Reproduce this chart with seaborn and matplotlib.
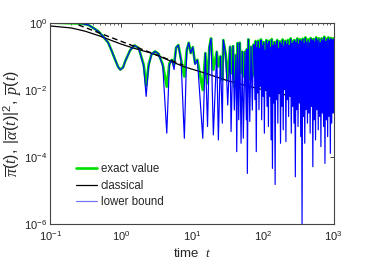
import numpy as np
import pandas as pd
import matplotlib
matplotlib.use("Agg")
import matplotlib.pyplot as plt
import seaborn as sns
from matplotlib.ticker import LogLocator, FixedLocator, NullLocator, NullFormatter

# ---------------- data (log10 units) ----------------
# early / middle part of the curves: log10(t), log10(exact), log10(lower bound)
logt_early = [-1.00, -0.85, -0.70, -0.55, -0.46, -0.39, -0.32, -0.25, -0.18, -0.13,
              -0.08, -0.04, -0.01, 0.03, 0.06, 0.13, 0.19, 0.25, 0.32, 0.355,
              0.39, 0.43, 0.48, 0.53, 0.59, 0.646, 0.683, 0.716, 0.749, 0.777,
              0.810, 0.848, 0.894, 0.928, 0.956, 0.984, 1.013, 1.045, 1.078, 1.154,
              1.190, 1.221, 1.247, 1.271, 1.303, 1.351, 1.374, 1.402, 1.430, 1.444,
              1.478, 1.506, 1.539, 1.553, 1.581, 1.599, 1.623, 1.633, 1.647, 1.661,
              1.676, 1.694, 1.712, 1.726, 1.750, 1.769, 1.776, 1.783, 1.797, 1.817,
              1.835, 1.853, 1.868]
exact_early = [0.00, -0.01, -0.02, -0.03, -0.07, -0.16, -0.26, -0.42, -0.60, -0.85,
               -1.12, -1.32, -1.40, -1.33, -1.15, -0.82, -0.68, -0.76, -1.25, -1.88,
               -1.25, -0.95, -0.86, -0.93, -1.25, -1.91, -1.21, -1.11, -1.26, -0.75,
               -0.67, -1.11, -1.61, -0.82, -0.60, -0.91, -0.73, -1.21, -1.11, -2.01,
               -0.91, -1.81, -0.73, -0.47, -1.41, -0.87, -1.31, -1.01, -1.71, -0.52,
               -0.96, -1.71, -0.72, -1.51, -0.70, -1.91, -0.96, -1.60, -0.61, -1.91,
               -0.60, -1.50, -0.87, -1.60, -0.87, -1.70, -0.80, -1.50, -0.50, -1.70,
               -0.72, -1.60, -0.67]
lower_early = [0.00, -0.01, -0.02, -0.03, -0.07, -0.16, -0.26, -0.42, -0.60, -0.85,
               -1.12, -1.33, -1.41, -1.34, -1.15, -0.82, -0.68, -0.76, -1.30, -2.20,
               -1.30, -0.95, -0.86, -0.93, -1.30, -3.30, -1.25, -1.11, -1.40, -0.75,
               -0.67, -1.15, -3.45, -0.82, -0.60, -0.91, -0.73, -1.25, -1.11, -3.45,
               -0.91, -3.10, -0.73, -0.47, -3.35, -0.87, -3.50, -1.01, -3.00, -0.52,
               -0.96, -2.46, -0.72, -3.25, -0.70, -2.61, -0.96, -3.85, -0.61, -2.90,
               -0.60, -3.60, -0.87, -3.45, -0.87, -2.90, -0.80, -4.50, -0.50, -2.95,
               -0.72, -2.61, -0.67]

# dense, fast-oscillating part (t from ~76 to 1000)
logt_dense = [1.880, 1.890, 1.899, 1.909, 1.918, 1.928, 1.937, 1.947, 1.956, 1.966,
              1.975, 1.985, 1.994, 2.004, 2.013, 2.023, 2.032, 2.042, 2.051, 2.061,
              2.070, 2.080, 2.089, 2.099, 2.108, 2.118, 2.127, 2.137, 2.146, 2.156,
              2.165, 2.175, 2.184, 2.194, 2.203, 2.213, 2.222, 2.232, 2.241, 2.251,
              2.260, 2.270, 2.279, 2.289, 2.298, 2.308, 2.317, 2.327, 2.336, 2.346,
              2.355, 2.365, 2.374, 2.384, 2.393, 2.403, 2.412, 2.422, 2.431, 2.441,
              2.450, 2.460, 2.469, 2.479, 2.488, 2.498, 2.507, 2.517, 2.526, 2.536,
              2.545, 2.555, 2.564, 2.574, 2.583, 2.593, 2.602, 2.612, 2.621, 2.631,
              2.640, 2.650, 2.659, 2.669, 2.678, 2.688, 2.697, 2.707, 2.716, 2.726,
              2.735, 2.745, 2.754, 2.764, 2.773, 2.783, 2.792, 2.802, 2.811, 2.821,
              2.830, 2.840, 2.849, 2.859, 2.868, 2.878, 2.887, 2.897, 2.906, 2.916,
              2.925, 2.935, 2.944, 2.954, 2.963, 2.973, 2.982, 2.992, 2.996, 3.000]
exact_dense = [-0.64, -0.9, -0.55, -1.0, -0.72, -0.9, -0.54, -0.9, -0.76, -0.9,
               -0.50, -0.9, -0.66, -0.85, -0.58, -1.0, -0.80, -0.9, -0.52, -0.85,
               -0.62, -0.9, -0.54, -0.85, -0.72, -1.0, -0.49, -1.0, -0.66, -0.85,
               -0.58, -1.0, -0.64, -0.85, -0.52, -0.9, -0.74, -0.9, -0.56, -0.9,
               -0.62, -0.85, -0.50, -0.9, -0.68, -0.85, -0.54, -0.9, -0.62, -0.85,
               -0.52, -0.85, -0.66, -0.85, -0.47, -0.9, -0.60, -0.85, -0.54, -0.85,
               -0.52, -1.0, -0.58, -0.85, -0.47, -0.85, -0.62, -0.85, -0.50, -0.9,
               -0.54, -1.0, -0.48, -0.85, -0.60, -0.9, -0.44, -0.85, -0.56, -0.85,
               -0.50, -0.85, -0.58, -0.9, -0.46, -0.85, -0.52, -1.0, -0.49, -0.85,
               -0.55, -0.9, -0.44, -0.85, -0.52, -0.9, -0.47, -0.85, -0.58, -0.9,
               -0.47, -0.85, -0.52, -0.85, -0.42, -1.0, -0.54, -0.85, -0.48, -0.9,
               -0.44, -0.85, -0.50, -0.9, -0.46, -0.85, -0.52, -0.85, -0.47, -0.85]
lower_dense = [-0.66, -2.3, -0.57, -3.85, -0.74, -2.1, -0.56, -2.6, -0.78, -1.9,
               -0.52, -2.9, -0.68, -2.2, -0.60, -3.3, -0.82, -2.0, -0.54, -2.5,
               -0.64, -3.1, -0.56, -2.2, -0.74, -3.5, -0.51, -4.35, -0.68, -2.4,
               -0.60, -4.83, -0.66, -2.3, -0.54, -3.0, -0.76, -2.1, -0.58, -3.6,
               -0.64, -2.5, -0.52, -3.2, -0.70, -2.0, -0.56, -3.55, -0.64, -2.3,
               -0.54, -2.8, -0.68, -2.2, -0.49, -3.3, -0.62, -2.5, -0.56, -3.0,
               -0.54, -4.6, -0.60, -2.6, -0.49, -3.1, -0.64, -2.4, -0.52, -3.4,
               -0.56, -6.0, -0.50, -2.8, -0.62, -3.6, -0.46, -2.6, -0.58, -3.0,
               -0.52, -2.7, -0.60, -3.3, -0.48, -2.5, -0.54, -4.3, -0.51, -2.9,
               -0.57, -3.5, -0.46, -2.6, -0.54, -3.2, -0.49, -2.8, -0.60, -3.7,
               -0.49, -2.7, -0.54, -3.1, -0.44, -4.2, -0.56, -2.9, -0.50, -3.4,
               -0.46, -2.8, -0.52, -3.9, -0.48, -3.0, -0.54, -2.7, -0.49, -2.4]

# classical curve
logt_classical = [-1.0, -0.7, -0.5, -0.3, -0.1, 0.0, 0.175, 0.41, 0.55, 0.7,
                  0.88, 1.19, 1.26, 1.5, 1.82, 2.1, 2.455, 2.7, 3.0]
classical = [-0.10, -0.16, -0.26, -0.40, -0.56, -0.64, -0.76, -0.90, -1.01, -1.15,
             -1.31, -1.51, -1.56, -1.73, -1.91, -2.05, -2.22, -2.29, -2.36]

# dashed guide line
logt_dashed = [-0.60, 0.88]
dashed = [-0.07, -1.27]

legend_labels = ["exact value", "classical", "lower bound"]

# ---------------- style ----------------
sns.set_style("white")
plt.rcParams['font.family'] = ['Liberation Sans', 'DejaVu Sans']
plt.rcParams['mathtext.fontset'] = 'custom'
plt.rcParams['mathtext.rm'] = 'Liberation Sans'
plt.rcParams['mathtext.it'] = 'Liberation Serif:italic'
plt.rcParams['mathtext.bf'] = 'Liberation Sans:bold'

GREEN = (0.0, 0.88, 0.0)
BLUE = (0.0, 0.0, 1.0)

fig = plt.figure(figsize=(3.74, 2.66), dpi=100)
ax = fig.add_axes([0.134, 0.159, 0.758, 0.756])

t_curve = 10 ** np.array(logt_early + logt_dense)
exact_vals = 10 ** np.array(exact_early + exact_dense)
lower_vals = 10 ** np.array(lower_early + lower_dense)

df_exact = pd.DataFrame({"t": t_curve, "v": exact_vals})
df_lower = pd.DataFrame({"t": t_curve, "v": lower_vals})
df_class = pd.DataFrame({"t": 10 ** np.array(logt_classical), "v": 10 ** np.array(classical)})
df_dash = pd.DataFrame({"t": 10 ** np.array(logt_dashed), "v": 10 ** np.array(dashed)})

sns.lineplot(data=df_exact, x="t", y="v", ax=ax, color=GREEN, lw=1.9,
             estimator=None, sort=False, label=legend_labels[0])
sns.lineplot(data=df_class, x="t", y="v", ax=ax, color="black", lw=0.9,
             estimator=None, sort=False, label=legend_labels[1])
sns.lineplot(data=df_lower, x="t", y="v", ax=ax, color=BLUE, lw=0.85, alpha=1.0,
             estimator=None, sort=False, label=legend_labels[2])
sns.lineplot(data=df_dash, x="t", y="v", ax=ax, color="black", lw=1.0,
             estimator=None, sort=False, legend=False, dashes=False)
ax.lines[-1].set_dashes((4, 2.5))

ax.set_xscale("log")
ax.set_yscale("log")
ax.set_xlim(0.1, 1000)
ax.set_ylim(1e-6, 1)

ax.xaxis.set_major_locator(LogLocator(base=10, numticks=10))
ax.xaxis.set_minor_locator(LogLocator(base=10, subs=np.arange(2, 10), numticks=20))
ax.xaxis.set_minor_formatter(NullFormatter())
ax.yaxis.set_major_locator(FixedLocator([1e-6, 1e-4, 1e-2, 1]))
ax.yaxis.set_minor_locator(NullLocator())

ax.tick_params(which="both", direction="in", top=True, right=True,
               labelsize=8, colors="#222222")
ax.tick_params(axis="x", pad=4)
ax.tick_params(axis="y", pad=2)
ax.tick_params(which="major", length=3, width=0.6)
ax.tick_params(which="minor", length=1.6, width=0.5)
for s in ax.spines.values():
    s.set_color("#444444")
    s.set_linewidth(0.8)

ax.set_xlabel(r"time  $t$", fontsize=9.5, labelpad=3)
ax.set_ylabel(r"$\overline{\pi}(t),\ |\overline{\alpha}(t)|^2,\ \overline{p}(t)$",
              fontsize=11.5, labelpad=0)

handles = ax.lines[:3]
leg = ax.legend(handles, legend_labels, loc="lower left", bbox_to_anchor=(0.075, 0.055),
                frameon=False, fontsize=8.3, handlelength=1.8, handletextpad=0.35,
                labelspacing=0.38, borderaxespad=0)
leg.get_lines()[2].set_alpha(0.55)

fig.savefig("out.png", dpi=100)
